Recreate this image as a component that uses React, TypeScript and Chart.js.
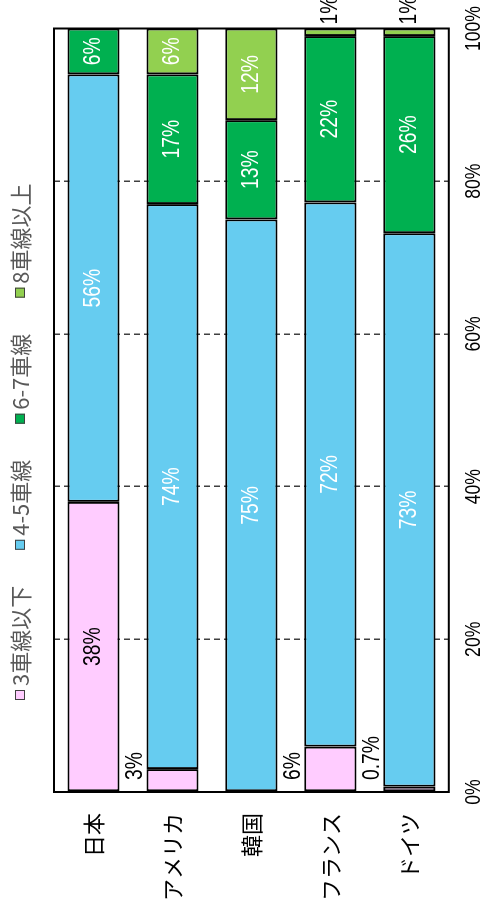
import React, { useEffect, useRef } from "react";
import { Chart, registerables } from "chart.js";

Chart.register(...registerables);

const categories = ["日本", "アメリカ", "韓国", "フランス", "ドイツ"];
const seriesNames = ["3車線以下", "4-5車線", "6-7車線", "8車線以上"];
const lane3 = [38, 3, 0, 6, 0.7];
const lane45 = [56, 74, 75, 72, 73];
const lane67 = [6, 17, 13, 22, 26];
const lane8 = [0, 6, 12, 1, 1];
const tickValues = [0, 20, 40, 60, 80, 100];

const seriesValues = [lane3, lane45, lane67, lane8];
const colors = ["#FFCCFF", "#66CCF0", "#00B050", "#92D050"];
const labelColors = ["#000000", "#FFFFFF", "#FFFFFF", "#FFFFFF"];
const insideMin = [10, 0, 0, 5];

const W = 915;
const H = 483;
const NUM_FONT = '"Liberation Sans", Arial, sans-serif';
const CJK_FONT = '"Noto Sans CJK JP", "Noto Sans", sans-serif';

function drawNarrow(
  ctx: CanvasRenderingContext2D,
  text: string,
  x: number,
  y: number,
  align: "left" | "center" | "right",
  baseline: CanvasTextBaseline,
  size: number,
  factor: number,
  color: string
) {
  ctx.save();
  ctx.font = `${size}px ${NUM_FONT}`;
  const w = ctx.measureText(text).width * factor;
  const left = align === "center" ? x - w / 2 : align === "left" ? x : x - w;
  ctx.translate(left, y);
  ctx.scale(factor, 1);
  ctx.textAlign = "left";
  ctx.textBaseline = baseline;
  ctx.fillStyle = color;
  ctx.fillText(text, 0, 0);
  ctx.restore();
}

const totals = categories.map((_, i) =>
  seriesValues.reduce((s, arr) => s + arr[i], 0)
);

const fmt = (v: number) => `${v}%`;

const overlayPlugin = {
  id: "overlay",
  afterDatasetsDraw(chart: any) {
    const ctx: CanvasRenderingContext2D = chart.ctx;
    const area = chart.chartArea;

    seriesValues.forEach((vals, d) => {
      const meta = chart.getDatasetMeta(d);
      meta.data.forEach((bar: any, i: number) => {
        const v = vals[i];
        if (!v) return;
        const p = bar.getProps(["x", "y", "base", "height"], true);
        const text = fmt(v);
        if (v >= insideMin[d]) {
          drawNarrow(ctx, text, (p.x + p.base) / 2, p.y, "center", "middle", 23, 0.84, labelColors[d]);
        } else if (d === 0) {
          drawNarrow(ctx, text, area.left + 12, p.y - p.height / 2 - 4, "left", "alphabetic", 23, 0.84, "#000000");
        } else {
          drawNarrow(ctx, text, area.right + 4, p.y, "left", "middle", 23, 0.84, "#000000");
        }
      });
    });

    ctx.save();
    ctx.strokeStyle = "#000000";
    ctx.lineWidth = 2;
    ctx.strokeRect(area.left, area.top, area.right - area.left, area.bottom - area.top);
    ctx.restore();
  },
  afterDraw(chart: any) {
    const ctx: CanvasRenderingContext2D = chart.ctx;
    const area = chart.chartArea;
    const xs = chart.scales.x;

    tickValues.forEach((t) => {
      drawNarrow(ctx, fmt(t), xs.getPixelForValue(t), area.bottom + 14, "center", "top", 22, 0.8, "#000000");
    });

    ctx.save();
    const fs = 22;
    ctx.font = `${fs}px ${CJK_FONT}`;
    const box = 10;
    const gapBox = 4;
    const gapItem = 36;
    const cy = 20;
    let x = area.left + 92;
    seriesNames.forEach((name, d) => {
      ctx.fillStyle = colors[d];
      ctx.fillRect(x, cy - box / 2, box, box);
      ctx.strokeStyle = "#404040";
      ctx.lineWidth = 1;
      ctx.strokeRect(x + 0.5, cy - box / 2 + 0.5, box - 1, box - 1);
      x += box + gapBox;
      ctx.fillStyle = "#595959";
      ctx.textAlign = "left";
      ctx.textBaseline = "middle";
      ctx.fillText(name, x, cy + 1);
      x += ctx.measureText(name).width + gapItem;
    });
    ctx.restore();
  },
};

export default function App() {
  const ref = useRef<HTMLCanvasElement | null>(null);

  useEffect(() => {
    if (!ref.current) return;
    const datasets = seriesValues.map((vals, d) => ({
      label: seriesNames[d],
      data: vals.map((v, i) => (v === 0 ? null : (v / totals[i]) * 100)),
      backgroundColor: colors[d],
      borderColor: "#000000",
      borderWidth: 2,
      borderSkipped: false as const,
      barPercentage: 0.66,
      categoryPercentage: 1,
    }));
    const chart = new Chart(ref.current, {
      type: "bar",
      data: { labels: categories, datasets },
      options: {
        indexAxis: "y",
        animation: false,
        responsive: false,
        maintainAspectRatio: false,
        devicePixelRatio: 1,
        layout: { padding: { top: 54, right: 28.5, bottom: 0, left: 0 } },
        plugins: {
          legend: { display: false },
          tooltip: { enabled: false },
        },
        scales: {
          x: {
            stacked: true,
            min: 0,
            max: 100,
            ticks: { display: false, stepSize: 20 },
            grid: {
              drawTicks: false,
              lineWidth: 1.5,
              color: (c: any) =>
                c.tick && (c.tick.value === 0 || c.tick.value === 100)
                  ? "rgba(0,0,0,0)"
                  : "#404040",
            },
            border: { display: false, dash: [6, 4] },
            afterFit: (s: any) => {
              s.height = 32.5;
            },
          },
          y: {
            stacked: true,
            grid: { display: false, drawTicks: false },
            border: { display: false },
            ticks: {
              color: "#000000",
              padding: 21,
              font: { family: CJK_FONT, size: 22 },
            },
            afterFit: (s: any) => {
              s.width = 123;
            },
          },
        },
      },
      plugins: [overlayPlugin],
    });
    return () => chart.destroy();
  }, []);

  return (
    <div
      style={{
        position: "absolute",
        left: 0,
        top: 0,
        width: W,
        height: H,
        transformOrigin: "0 0",
        transform: `translateY(${W}px) rotate(-90deg)`,
        background: "#ffffff",
      }}
    >
      <canvas ref={ref} width={W} height={H} style={{ width: W, height: H, display: "block" }} />
    </div>
  );
}
